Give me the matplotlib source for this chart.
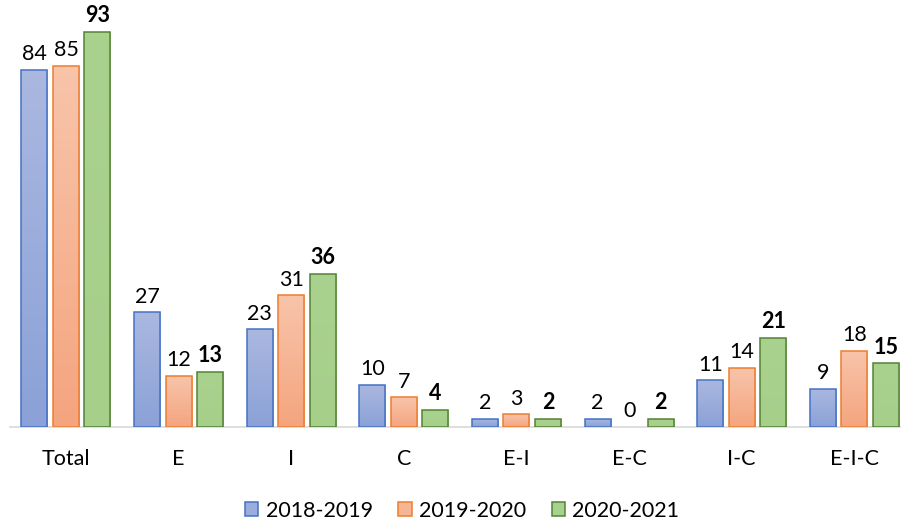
import matplotlib
matplotlib.use("Agg")
import matplotlib.pyplot as plt
import numpy as np
from matplotlib.colors import LinearSegmentedColormap
from matplotlib.patches import Patch

categories = ["Total", "E", "I", "C", "E-I", "E-C", "I-C", "E-I-C"]
series_names = ["2018-2019", "2019-2020", "2020-2021"]
values_2018 = [84, 27, 23, 10, 2, 2, 11, 9]
values_2019 = [85, 12, 31, 7, 3, 0, 14, 18]
values_2020 = [93, 13, 36, 4, 2, 2, 21, 15]

# (top colour, bottom colour, edge colour)
styles = [
    ("#aab8e0", "#8ba1d7", "#4472c4"),
    ("#f8c4aa", "#f4a57f", "#ed7d31"),
    ("#aad28f", "#a6cf8a", "#548235"),
]

plt.rcParams["font.family"] = ["Lato", "DejaVu Sans"]
FS = 15.5

fig = plt.figure(figsize=(9.01, 5.21), dpi=100)
ax = fig.add_axes([0.0107, 0.1804, 1.0, 0.8157])

x = np.arange(len(categories))
step = 0.2795
width = 0.231
all_values = [values_2018, values_2019, values_2020]

for i, (vals, (top, bottom, edge)) in enumerate(zip(all_values, styles)):
    cmap = LinearSegmentedColormap.from_list(f"g{i}", [bottom, top])
    xs = x + (i - 1) * step
    bars = ax.bar(xs, vals, width, facecolor="none", edgecolor=edge,
                  linewidth=1.1, zorder=3)
    for bar, v in zip(bars, vals):
        if v > 0:
            x0 = bar.get_x()
            grad = np.linspace(0, 1, 64).reshape(-1, 1)
            im = ax.imshow(grad, cmap=cmap, origin="lower", aspect="auto",
                           extent=[x0, x0 + width, 0, v], zorder=2)
            im.set_clip_path(bar)
        else:
            bar.set_visible(False)
        ax.annotate(str(v), (bar.get_x() + width / 2, v), xytext=(0, 4),
                    textcoords="offset points", ha="center", va="bottom",
                    fontsize=FS, fontweight="bold" if i == 2 else "normal",
                    color="#000000", zorder=4)

ax.set_xlim(-0.5, len(categories) - 0.5)
ax.set_ylim(0, 100)
ax.set_xticks(x)
ax.set_xticklabels(categories, fontsize=FS)
ax.tick_params(axis="x", length=0, pad=15.5)
ax.set_yticks([])
for side in ["top", "right", "left"]:
    ax.spines[side].set_visible(False)
ax.spines["bottom"].set_color("#d9d9d9")
ax.spines["bottom"].set_linewidth(1.2)
ax.spines["bottom"].set_zorder(1)

handles = [Patch(facecolor=LinearSegmentedColormap.from_list("m", [b, t])(0.5),
                 edgecolor=e, linewidth=1.1) for t, b, e in styles]
fig.legend(handles, series_names, loc="center", bbox_to_anchor=(0.513, 0.02),
           ncol=3, frameon=False, fontsize=FS, handlelength=0.62,
           handleheight=0.62, handletextpad=0.33, columnspacing=1.2)

fig.savefig("out.png", dpi=100)
